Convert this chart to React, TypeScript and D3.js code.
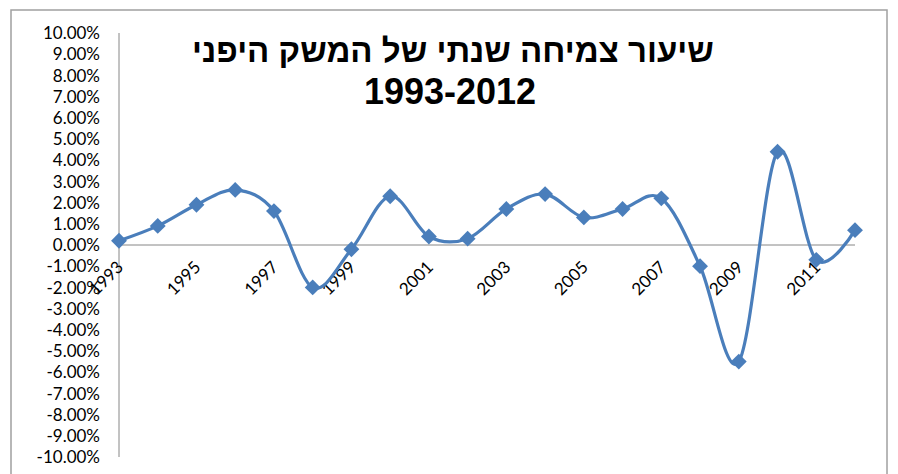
import * as d3 from 'd3'

const years = [1993, 1994, 1995, 1996, 1997, 1998, 1999, 2000, 2001, 2002, 2003, 2004, 2005, 2006, 2007, 2008, 2009, 2010, 2011, 2012]
const growth = [0.2, 0.9, 1.9, 2.6, 1.6, -2.0, -0.2, 2.3, 0.4, 0.3, 1.7, 2.4, 1.3, 1.7, 2.2, -1.0, -5.5, 4.4, -0.7, 0.7]
const yTicks = d3.range(-10, 11, 1)
const labelYears = [1993, 1995, 1997, 1999, 2001, 2003, 2005, 2007, 2009, 2011]
const titleLines = ['שיעור צמיחה שנתי של המשק היפני', '1993-2012']

const W = 898
const H = 474
const BLUE = '#4a7ebb'

export default function App() {
    const x = d3.scaleLinear().domain([1993, 2012]).range([119, 855])
    const y = d3.scaleLinear().domain([-10, 10]).range([457, 33])

    const line = d3
        .line<number>()
        .x((_, i) => x(years[i]))
        .y(d => y(d))
        .curve(d3.curveCardinal.tension(0))

    const diamond = d3.symbol().type(d3.symbolDiamond2).size(160)()

    return (
        <svg width={W} height={H} style={{ position: 'absolute', left: 0, top: 0, background: '#fff' }}>
            <rect x={11} y={10} width={876} height={500} fill="#fff" stroke="#a0a0a0" strokeWidth={1.5} />

            {/* title */}
            <g fontFamily="Arial, 'Liberation Sans', sans-serif" fontWeight="bold" textAnchor="middle" fill="#000">
                <text x={453} y={62} fontSize={33} direction="rtl">{titleLines[0]}</text>
                <text x={450} y={104} fontSize={36}>{titleLines[1]}</text>
            </g>

            {/* y axis */}
            <line x1={x(1993)} x2={x(1993)} y1={y(10)} y2={y(-10)} stroke="#868686" strokeWidth={1} />
            <g fontFamily="Lato, 'Open Sans', sans-serif" fontSize={17} textAnchor="end" fill="#000">
                {yTicks.map(t => (
                    <text key={t} x={100} y={y(t)} dy="0.36em">
                        {t.toFixed(2) + '%'}
                    </text>
                ))}
            </g>

            {/* zero line */}
            <line x1={x(1993)} x2={x(2012)} y1={y(0)} y2={y(0)} stroke="#868686" strokeWidth={1} />

            {/* x labels */}
            <g fontFamily="Lato, 'Open Sans', sans-serif" fontSize={17} textAnchor="end" fill="#000">
                {labelYears.map(yr => (
                    <text key={yr} transform={`translate(${x(yr) + 1}, ${y(0) + 19}) rotate(-45)`} dy="0.36em">
                        {yr}
                    </text>
                ))}
            </g>

            {/* series */}
            <path d={line(growth) ?? ''} fill="none" stroke={BLUE} strokeWidth={3.2} strokeLinejoin="round" />
            {growth.map((v, i) => (
                <path key={years[i]} d={diamond ?? ''} transform={`translate(${x(years[i])}, ${y(v)})`} fill={BLUE} />
            ))}
        </svg>
    )
}
